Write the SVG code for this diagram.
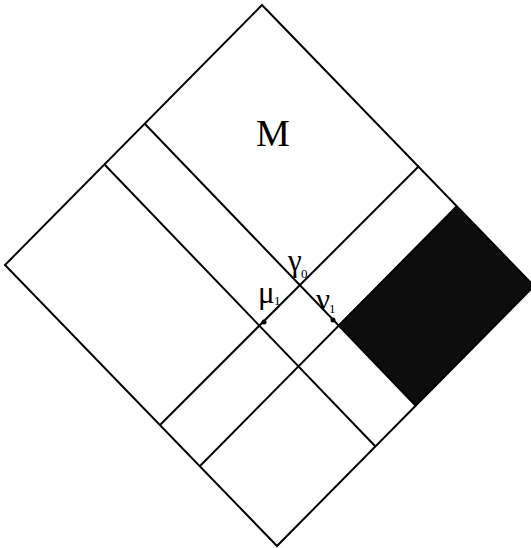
<svg xmlns="http://www.w3.org/2000/svg" width="531" height="548" viewBox="0 0 531 548">
<style>
.ln{stroke:#000;stroke-width:2;fill:none;stroke-linejoin:miter}
.lbl{font-family:"Liberation Serif","Times New Roman",serif;fill:#000}
.sub{font-family:"Liberation Serif","Times New Roman",serif;fill:#000;font-size:13px}
</style>
<rect width="531" height="548" fill="#fff"/>
<g id="shaded">
<polygon points="338,325 457,206 534,286 416,406" fill="#0d0d0d"/>
</g>
<g id="outline">
<polygon class="ln" points="262,5 534,286 277,546 5,265"/>
</g>
<g id="lines">
<line class="ln" x1="145" y1="124" x2="416" y2="406"/>
<line class="ln" x1="105" y1="165" x2="375" y2="446"/>
<line class="ln" x1="160" y1="425" x2="419" y2="166"/>
<line class="ln" x1="200" y1="466" x2="457" y2="206"/>
</g>
<g id="points">
<circle cx="264" cy="322" r="2.5" fill="#000"/>
<circle cx="333" cy="320" r="2.5" fill="#000"/>
</g>
<g id="labels">
<text class="lbl" x="273" y="146" font-size="38" text-anchor="middle">M</text>
<text class="lbl" x="288" y="271" font-size="31">γ</text>
<text class="sub" x="301" y="278">0</text>
<text class="lbl" x="258" y="303" font-size="31">μ</text>
<text class="sub" x="274" y="305">1</text>
<text class="lbl" x="316" y="310" font-size="31">ν</text>
<text class="sub" x="329" y="313">1</text>
</g>
</svg>
